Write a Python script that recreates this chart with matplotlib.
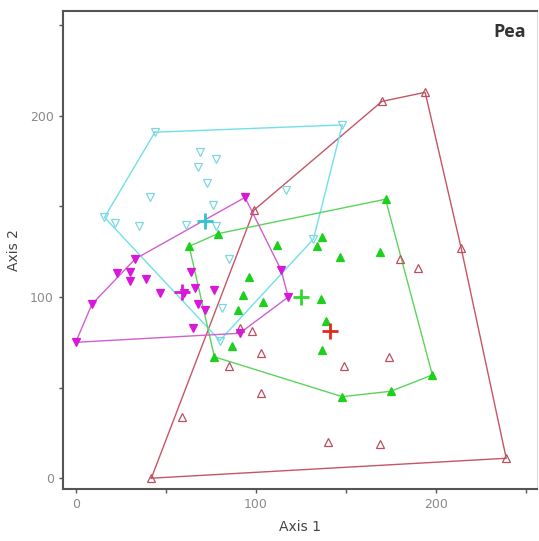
import numpy as np
import matplotlib.pyplot as plt

# ---------------------------------------------
# Ordination scores
# ---------------------------------------------
# cyan group: open down-triangles
cyan_hull_x = [44, 148, 132, 80, 16]
cyan_hull_y = [191, 195, 132, 76, 144]
cyan_x = [69, 78, 68, 73, 41, 76, 22, 35, 61, 78, 117, 85, 81]
cyan_y = [180, 176, 172, 163, 155, 151, 141, 139, 140, 139, 159, 121, 94]
cyan_centre = (72, 142)

# magenta group: filled down-triangles
mag_hull_x = [94, 114, 118, 91, 0, 9, 33]
mag_hull_y = [155, 115, 100, 80, 75, 96, 121]
mag_x = [23, 30, 30, 39, 47, 60, 64, 66, 77, 68, 72, 65]
mag_y = [113, 114, 109, 110, 102, 102, 114, 105, 104, 96, 93, 83]
mag_centre = (59, 103)

# green group: filled up-triangles
grn_hull_x = [63, 79, 172, 198, 175, 148, 77]
grn_hull_y = [128, 135, 154, 57, 48, 45, 67]
grn_x = [112, 137, 134, 147, 169, 96, 93, 104, 90, 87, 136, 139, 137]
grn_y = [129, 133, 128, 122, 125, 111, 101, 97, 93, 73, 99, 87, 71]
grn_centre = (125, 100)

# red group: open up-triangles
red_hull_x = [42, 99, 170, 194, 214, 239]
red_hull_y = [0, 148, 208, 213, 127, 11]
red_x = [180, 190, 91, 98, 103, 85, 149, 103, 174, 140, 169, 59]
red_y = [121, 116, 83, 81, 69, 62, 62, 47, 67, 20, 19, 34]
red_centre = (141, 81)

groups = [
    # hull x, hull y, pts x, pts y, centre, marker, filled, marker colour, hull colour, centre colour
    (red_hull_x, red_hull_y, red_x, red_y, red_centre, "^", False, "#b85060", "#c65565", "#e02a1a"),
    (cyan_hull_x, cyan_hull_y, cyan_x, cyan_y, cyan_centre, "v", False, "#7fd6e0", "#6fe0ea", "#2cc4d6"),
    (grn_hull_x, grn_hull_y, grn_x, grn_y, grn_centre, "^", True, "#1ed01e", "#5cd45c", "#2ed82e"),
    (mag_hull_x, mag_hull_y, mag_x, mag_y, mag_centre, "v", True, "#d818d8", "#d060d0", "#d818d8"),
]

fig = plt.figure(figsize=(5.39, 5.41), dpi=100)
ax = fig.add_axes([0.117, 0.096, 0.879, 0.884])

for hx, hy, px, py, c, m, filled, mc, hc, cc in groups:
    ax.plot(hx + [hx[0]], hy + [hy[0]], color=hc, lw=1.0, zorder=2)
    allx = hx + px
    ally = hy + py
    face = mc if filled else "none"
    ax.plot(allx, ally, linestyle="none", marker=m, markersize=5.5,
            markerfacecolor=face, markeredgecolor=mc, markeredgewidth=0.9, zorder=3)
    ax.plot(c[0], c[1], marker="+", markersize=12, markeredgewidth=2,
            color=cc, linestyle="none", zorder=4)

ax.set_xlim(-7, 256)
ax.set_ylim(-6, 258)
ax.set_xticks([0, 50, 100, 150, 200, 250])
ax.set_xticklabels(["0", "", "100", "", "200", ""])
ax.set_yticks([0, 50, 100, 150, 200, 250])
ax.set_yticklabels(["0", "", "100", "", "200", ""])
ax.tick_params(direction="out", length=3, width=1, colors="#555555",
               labelcolor="#8a8a8a", labelsize=9)

for side in ["left", "bottom", "top"]:
    ax.spines[side].set_color("#555555")
    ax.spines[side].set_linewidth(1.5)
ax.spines["right"].set_color("#dddddd")

ax.set_xlabel("Axis 1", fontsize=10, color="#444444")
ax.set_ylabel("Axis 2", fontsize=10, color="#444444")
ax.yaxis.set_label_coords(-0.088, 0.5)
ax.xaxis.set_label_coords(0.5, -0.065)

ax.text(0.977, 0.975, "Pea", transform=ax.transAxes, ha="right", va="top",
        fontsize=13, fontweight="bold", color="#333333", family="Open Sans")

fig.savefig("out.png", dpi=100)
